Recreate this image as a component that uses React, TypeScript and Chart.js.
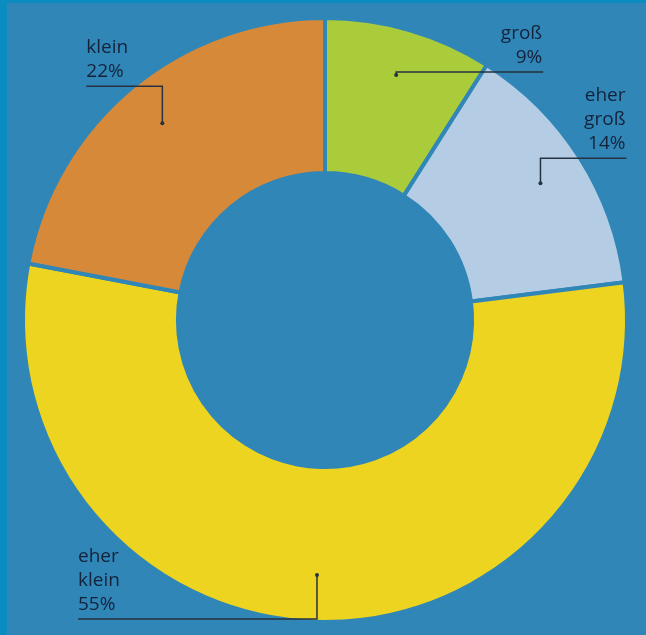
import React, { useEffect, useRef } from "react";
import { Chart, registerables } from "chart.js";

Chart.register(...registerables);

// ---- data ----
const categories = ["groß", "eher groß", "eher klein", "klein"];
const shares = [9, 14, 55, 22];
const labelLines = [["groß", "9%"], ["eher", "groß", "14%"], ["eher", "klein", "55%"], ["klein", "22%"]];

// ---- styles ----
const sliceColors = ["#aacb3a", "#b5cde4", "#ecd420", "#d7893a"];
const bgColor = "#2f86b7";
const frameColor = "#0a8cc0";
const textColor = "#14233a";
const lineColor = "#26323f";
// leader layout: offset from anchor dot to the far end of the horizontal line
const leaderOffsets = [
  { dx: 147, dy: -3 },
  { dx: 86, dy: -25 },
  { dx: -239, dy: 44 },
  { dx: -76, dy: -37 },
];

const labelPlugin = {
  id: "leaderLabels",
  afterDatasetsDraw(chart: any) {
    const ctx = chart.ctx;
    const meta = chart.getDatasetMeta(0);
    ctx.save();
    meta.data.forEach((arc: any, i: number) => {
      const mid = (arc.startAngle + arc.endAngle) / 2;
      const r = arc.outerRadius * 0.845;
      const px = arc.x + Math.cos(mid) * r;
      const py = arc.y + Math.sin(mid) * r;
      const off = leaderOffsets[i];
      const ly = py + off.dy;
      const ex = px + off.dx;
      ctx.strokeStyle = lineColor;
      ctx.lineWidth = 1.5;
      ctx.beginPath();
      ctx.moveTo(px, py);
      ctx.lineTo(px, ly);
      ctx.lineTo(ex, ly);
      ctx.stroke();
      ctx.fillStyle = lineColor;
      ctx.beginPath();
      ctx.arc(px, py, 2, 0, Math.PI * 2);
      ctx.fill();
      const lines = labelLines[i];
      ctx.fillStyle = textColor;
      ctx.font = '19px "Open Sans", sans-serif';
      ctx.textBaseline = "alphabetic";
      ctx.textAlign = off.dx > 0 ? "right" : "left";
      const tx = off.dx > 0 ? ex - 1 : ex;
      const lh = 24;
      lines.forEach((t, k) => {
        const baseline = ly - 9 - (lines.length - 1 - k) * lh;
        ctx.fillText(t, tx, baseline);
      });
    });
    ctx.restore();
  },
};

export default function App() {
  const ref = useRef<HTMLCanvasElement | null>(null);
  useEffect(() => {
    document.body.style.margin = "0";
    const chart = new Chart(ref.current as HTMLCanvasElement, {
      type: "doughnut",
      data: {
        labels: categories,
        datasets: [
          {
            data: shares,
            backgroundColor: sliceColors,
            borderColor: bgColor,
            borderWidth: 4,
            hoverOffset: 0,
          },
        ],
      },
      options: {
        responsive: false,
        animation: false,
        events: [],
        radius: 302,
        cutout: "48.7%",
        layout: { padding: { left: 4, top: 5, right: 0, bottom: 0 } },
        plugins: { legend: { display: false }, tooltip: { enabled: false } },
      } as any,
      plugins: [labelPlugin],
    });
    return () => chart.destroy();
  }, []);
  return (
    <div style={{ position: "relative", width: 646, height: 635, background: bgColor, overflow: "hidden" }}>
      <div style={{ position: "absolute", left: 0, top: 0, width: 7, height: 635, background: frameColor }} />
      <div style={{ position: "absolute", left: 0, top: 0, width: 646, height: 3, background: frameColor }} />
      <canvas ref={ref} width={646} height={635} style={{ position: "absolute", left: 0, top: 0 }} />
    </div>
  );
}
